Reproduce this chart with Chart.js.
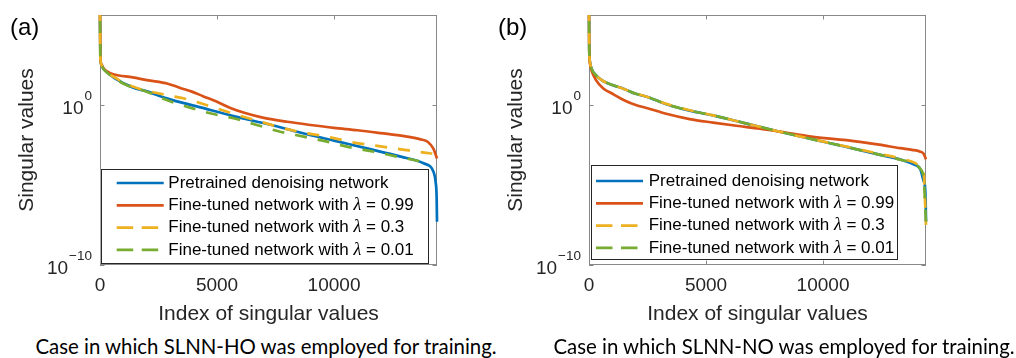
<!DOCTYPE html>
<html>
<head>
<meta charset="utf-8">
<script src="https://cdn.jsdelivr.net/npm/chart.js@4.4.1/dist/chart.umd.min.js"></script>
<style>
html, body { margin: 0; padding: 0; background: #fff; }
body { width: 1016px; height: 358px; position: relative; overflow: hidden; font-family: 'Liberation Sans', Arial, sans-serif; }
.panel { position: absolute; top: 0; }
.tag { position: absolute; top: 15px; font-size: 24px; line-height: 24px; color: #000; }
.caption { position: absolute; top: 336px; font-family: Lato, sans-serif; font-size: 20.4px; line-height: 20px; white-space: nowrap; transform: translateX(-50%); color: #000; }
</style>
</head>
<body>
<div class="panel" style="left:0;width:490px;height:330px"><canvas id="chartA" width="490" height="330"></canvas></div>
<div class="panel" style="left:489px;width:527px;height:330px"><canvas id="chartB" width="527" height="330"></canvas></div>
<div class="tag" style="left:10px">(a)</div>
<div class="tag" style="left:498px">(b)</div>
<div class="caption" style="left:266px">Case in which SLNN-HO was employed for training.</div>
<div class="caption" style="left:784px">Case in which SLNN-NO was employed for training.</div>
<script>
const seriesLabels = [
    'Pretrained denoising network',
    'Fine-tuned network with λ = 0.99',
    'Fine-tuned network with λ = 0.3',
    'Fine-tuned network with λ = 0.01'
];
const seriesColors = ['#0072BD', '#D95319', '#EDB120', '#77AC30'];
const xTicks = [0, 5000, 10000];
const yTicks = [1e-10, 1];
const yTickBase = '10';
const yTickExp = ['\u221210', '0'];
const xMax = 14400;
const yMin = 1e-10;
const yMax = 4.2e5;

// (a) SLNN-HO
const blueIdxA = [0, 15, 60, 150, 300, 600, 1400, 2000, 2850, 4300, 5700, 7150, 8550, 10000, 11400, 12850, 13850, 14250, 14340, 14385, 14400];
const blueValA = [1e6, 1e3, 316, 178, 112, 50, 12.6, 7.1, 2.6, 0.71, 0.20, 0.065, 0.019, 5.9e-3, 1.95e-3, 5.9e-4, 2.2e-4, 6.8e-5, 1.6e-5, 1.6e-6, 5e-8];
const redIdxA = [0, 15, 60, 150, 300, 600, 1400, 2000, 2900, 3400, 3900, 4400, 5000, 5600, 6200, 7000, 8000, 9000, 10000, 11000, 12000, 13000, 13700, 14000, 14250, 14400];
const redValA = [1e6, 1e3, 355, 200, 126, 79.4, 53.7, 35.5, 21.4, 12.0, 7.08, 3.55, 1.585, 0.631, 0.316, 0.158, 0.0891, 0.0562, 0.0372, 0.0263, 0.0174, 0.0112, 0.00708, 0.00501, 0.00178, 4.47e-4];
const yellowIdxA = [0, 15, 60, 150, 300, 600, 1000, 1700, 2850, 3850, 4850, 5850, 6850, 7850, 8850, 9850, 10850, 11850, 12850, 13850, 14200];
const yellowValA = [1e6, 1e3, 316, 178, 105, 56.2, 25.1, 10, 4.22, 2.04, 0.708, 0.24, 0.0912, 0.0347, 0.017, 0.00955, 0.00447, 0.00275, 0.0017, 0.00105, 9.3e-4];
const greenIdxA = [0, 15, 60, 150, 300, 600, 1200, 2000, 2850, 3700, 4700, 5700, 6700, 7700, 8700, 9700, 10700, 11700, 12700, 13700, 14100];
const greenValA = [1e6, 1e3, 316, 178, 107, 47.9, 15.8, 6.76, 2.04, 0.794, 0.302, 0.148, 0.0562, 0.0214, 0.0105, 0.00513, 0.00224, 0.0012, 5.9e-4, 2.9e-4, 2.0e-4];

// (b) SLNN-NO
const blueIdxB = [0, 10, 40, 100, 300, 600, 1000, 1500, 2000, 2500, 3300, 4300, 5300, 6700, 8150, 9575, 11000, 12400, 13400, 13850, 14150, 14300, 14350, 14385, 14400];
const blueValB = [1e6, 3162, 501, 200, 70.8, 31.6, 17.8, 10, 5.01, 3.16, 1.12, 0.447, 0.224, 0.0708, 0.0214, 0.00708, 0.0024, 7.9e-4, 3.55e-4, 2.0e-4, 1.0e-4, 1.78e-5, 1e-5, 1e-6, 5e-8];
const redIdxB = [0, 10, 40, 100, 300, 600, 1000, 1500, 2000, 2500, 3300, 4300, 5300, 6300, 7300, 8200, 9500, 11000, 12400, 13300, 13800, 14130, 14300, 14400];
const redValB = [1e6, 3162, 398, 158, 35.5, 11.2, 5.01, 2.0, 1.0, 0.631, 0.282, 0.132, 0.0794, 0.0501, 0.0331, 0.0209, 0.0105, 0.0063, 0.0033, 0.002, 0.00158, 0.00126, 8.9e-4, 4.0e-4];
const yellowIdxB = [0, 10, 40, 100, 300, 600, 1000, 1500, 2000, 2500, 3300, 4300, 5300, 6700, 8150, 9575, 11000, 12400, 13400, 13900, 14150, 14300, 14400];
const yellowValB = [1e6, 3162, 501, 200, 70.8, 31.6, 17.8, 10, 5.25, 3.16, 1.17, 0.468, 0.224, 0.0708, 0.0214, 0.00708, 0.00251, 8.9e-4, 4.2e-4, 2.5e-4, 1.4e-4, 5e-5, 3.2e-8];
const greenIdxB = [0, 10, 40, 100, 300, 600, 1000, 1500, 2000, 2500, 3300, 4300, 5300, 6700, 8150, 9575, 11000, 12400, 13400, 13900, 14150, 14300, 14400];
const greenValB = [1e6, 3162, 501, 200, 70.8, 31.6, 17.8, 10, 5.01, 3.16, 1.12, 0.447, 0.224, 0.0708, 0.0214, 0.00708, 0.0024, 7.9e-4, 3.55e-4, 2.1e-4, 1.05e-4, 2.5e-5, 4e-8];

const axisColor = '#888';
const textColor = '#262626';
const sansFont = "'Liberation Sans', Arial, sans-serif";
const lineWidth = 2.7;

// box, inward ticks, 10^n labels and the legend, MATLAB style
const matlabAxes = {
    id: 'matlabAxes',
    beforeDatasetsDraw(chart) {
        const ctx = chart.ctx;
        const ca = chart.chartArea;
        const xs = chart.scales.x;
        const ys = chart.scales.y;
        ctx.save();
        ctx.strokeStyle = axisColor;
        ctx.lineWidth = 1;
        ctx.strokeRect(Math.round(ca.left) + 0.5, Math.round(ca.top) + 0.5,
            Math.round(ca.right - ca.left) - 1, Math.round(ca.bottom - ca.top) - 1);
        ctx.beginPath();
        xTicks.forEach(v => {
            const px = Math.round(xs.getPixelForValue(v)) + 0.5;
            ctx.moveTo(px, ca.top); ctx.lineTo(px, ca.top + 4.5);
            ctx.moveTo(px, ca.bottom); ctx.lineTo(px, ca.bottom - 4.5);
        });
        yTicks.forEach(v => {
            const py = Math.round(ys.getPixelForValue(v)) + 0.5;
            ctx.moveTo(ca.left, py); ctx.lineTo(ca.left + 4.5, py);
            ctx.moveTo(ca.right, py); ctx.lineTo(ca.right - 4.5, py);
        });
        ctx.stroke();

        ctx.fillStyle = textColor;
        ctx.textBaseline = 'alphabetic';
        ctx.textAlign = 'left';
        yTicks.forEach((v, i) => {
            const py = ys.getPixelForValue(v);
            ctx.font = '19px ' + sansFont;
            const wb = ctx.measureText(yTickBase).width;
            ctx.font = '13.5px ' + sansFont;
            const we = ctx.measureText(yTickExp[i]).width;
            const xb = ca.left - 9 - we - wb;
            ctx.font = '19px ' + sansFont;
            ctx.fillText(yTickBase, xb, py + 9);
            ctx.font = '13.5px ' + sansFont;
            ctx.fillText(yTickExp[i], xb + wb + 1, py - 5);
        });
        ctx.restore();
    },
    afterDraw(chart, args, opts) {
        const ctx = chart.ctx;
        const ca = chart.chartArea;
        const lg = opts.legend;
        const x0 = ca.left + lg.dx;
        const y0 = ca.top + lg.dy;
        ctx.save();
        ctx.fillStyle = '#fff';
        ctx.fillRect(x0, y0, lg.w, lg.h);
        ctx.strokeStyle = '#262626';
        ctx.lineWidth = 1;
        ctx.strokeRect(Math.round(x0) + 0.5, Math.round(y0) + 0.5, lg.w, lg.h);
        chart.data.datasets.forEach((ds, i) => {
            const y = y0 + lg.row0 + i * lg.gap;
            ctx.strokeStyle = ds.borderColor;
            ctx.lineWidth = ds.borderWidth;
            ctx.setLineDash(ds.borderDash.length ? [16.5, 8.5] : []);
            ctx.beginPath();
            ctx.moveTo(x0 + lg.sx, y);
            ctx.lineTo(x0 + lg.sx + 47, y);
            ctx.stroke();
            ctx.setLineDash([]);
            const parts = ds.label.split('λ');
            let tx = x0 + lg.tx;
            ctx.fillStyle = '#000';
            ctx.textBaseline = 'middle';
            ctx.font = '17px ' + sansFont;
            ctx.fillText(parts[0], tx, y);
            tx += ctx.measureText(parts[0]).width;
            if (parts.length > 1) {
                ctx.font = "italic 18px 'Liberation Serif', serif";
                ctx.fillText('λ', tx, y);
                tx += ctx.measureText('λ').width;
                ctx.font = '17px ' + sansFont;
                ctx.fillText(parts[1], tx, y);
            }
        });
        ctx.restore();
    }
};

function makeChart(id, series, legend, padRight) {
    return new Chart(document.getElementById(id), {
        type: 'line',
        data: {
            datasets: series.map((s, i) => ({
                label: seriesLabels[i],
                data: s[0].map((x, k) => ({x: x, y: s[1][k]})),
                borderColor: seriesColors[i],
                borderWidth: lineWidth,
                borderDash: i >= 2 ? [12, 11] : [],
                borderDashOffset: i === 3 ? 11 : 0,
                pointRadius: 0,
                cubicInterpolationMode: 'monotone',
                fill: false,
                clip: {left: 2, right: 2, top: 0, bottom: 0},
                order: 4 - i
            }))
        },
        options: {
            responsive: false,
            animation: false,
            events: [],
            layout: {padding: {top: 15, right: padRight, left: 0, bottom: 0}},
            plugins: {
                legend: {display: false},
                tooltip: {enabled: false},
                matlabAxes: {legend: legend}
            },
            scales: {
                x: {
                    type: 'linear',
                    min: 0,
                    max: xMax,
                    afterFit: s => { s.height = 65; },
                    afterBuildTicks: s => { s.ticks = xTicks.map(v => ({value: v})); },
                    grid: {display: false, drawTicks: false},
                    border: {display: false},
                    ticks: {font: {size: 19, family: sansFont}, color: textColor, padding: 9, maxRotation: 0, autoSkip: false, callback: v => String(v)},
                    title: {display: true, text: 'Index of singular values', font: {size: 21, family: sansFont}, color: textColor, padding: {top: 0, bottom: 3}}
                },
                y: {
                    type: 'logarithmic',
                    min: yMin,
                    max: yMax,
                    afterFit: s => { s.width = 100; },
                    afterBuildTicks: s => { s.ticks = yTicks.map(v => ({value: v})); },
                    grid: {display: false, drawTicks: false},
                    border: {display: false},
                    ticks: {display: false},
                    title: {display: true, text: 'Singular values', font: {size: 21, family: sansFont}, color: textColor, padding: {top: 15, bottom: 0}}
                }
            }
        },
        plugins: [matlabAxes]
    });
}

makeChart('chartA', [
    [blueIdxA, blueValA], [redIdxA, redValA], [yellowIdxA, yellowValA], [greenIdxA, greenValA]
], {dx: 0.7, dy: 154.3, w: 327, h: 94, row0: 13.7, gap: 22.3, sx: 16, tx: 67.6}, 53);

makeChart('chartB', [
    [blueIdxB, blueValB], [redIdxB, redValB], [yellowIdxB, yellowValB], [greenIdxB, greenValB]
], {dx: 2, dy: 150, w: 306, h: 94, row0: 16, gap: 22.3, sx: 5, tx: 57.7}, 90);
</script>
</body>
</html>
